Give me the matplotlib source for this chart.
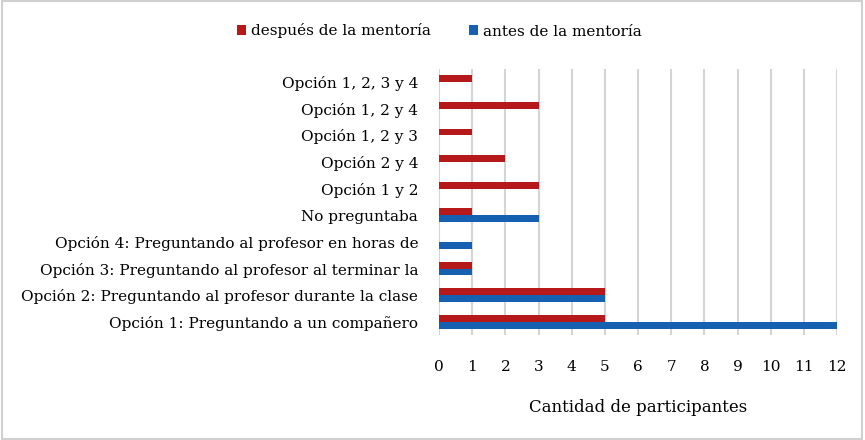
import matplotlib.pyplot as plt
import numpy as np
from matplotlib.patches import Rectangle

# categories from bottom to top
categorias = [
    "Opción 1: Preguntando a un compañero",
    "Opción 2: Preguntando al profesor durante la clase",
    "Opción 3: Preguntando al profesor al terminar la",
    "Opción 4: Preguntando al profesor en horas de",
    "No preguntaba",
    "Opción 1 y 2",
    "Opción 2 y 4",
    "Opción 1, 2 y 3",
    "Opción 1, 2 y 4",
    "Opción 1, 2, 3 y 4",
]
antes = [12, 5, 1, 1, 3, 0, 0, 0, 0, 0]
despues = [5, 5, 1, 0, 1, 3, 2, 1, 3, 1]
ticks_x = list(range(0, 13))

rojo = "#B5191A"
azul = "#1560B0"

plt.rcParams['font.family'] = ['DejaVu Serif']

fig = plt.figure(figsize=(8.65, 4.40), dpi=100)
ax = fig.add_axes([439 / 865, 1 - 335 / 440, (837 - 439) / 865, (335 - 69) / 440])

y = np.arange(len(categorias))
h = 0.26
ax.barh(y - h / 2, antes, height=h, color=azul, label="antes de la mentoría")
ax.barh(y + h / 2, despues, height=h, color=rojo, label="después de la mentoría")

ax.set_ylim(-0.5, len(categorias) - 0.5)
ax.set_xlim(0, 12)
ax.set_xticks(ticks_x)
ax.set_yticks(y)
ax.set_yticklabels(categorias, fontsize=11)
ax.tick_params(axis='x', labelsize=11, length=0, pad=18)
ax.tick_params(axis='y', length=0, pad=15)
ax.grid(axis='x', color='#D4D4D4', linewidth=1.5)
ax.set_axisbelow(True)
for s in ax.spines.values():
    s.set_visible(False)
ax.set_xlabel("Cantidad de participantes", fontsize=12, labelpad=18)

handles, labels = ax.get_legend_handles_labels()
fig.legend(handles[::-1], labels[::-1], loc='center', bbox_to_anchor=(0.508, 1 - 31 / 440),
           ncol=2, frameon=False, fontsize=11, handlelength=0.6, handleheight=0.6,
           handletextpad=0.3, columnspacing=2.5)

fig.patches.append(Rectangle((0.002, 0.003), 0.995, 0.994, transform=fig.transFigure,
                             fill=False, edgecolor='#D0D0D0', linewidth=1.5))

fig.savefig("out.png", dpi=100)
